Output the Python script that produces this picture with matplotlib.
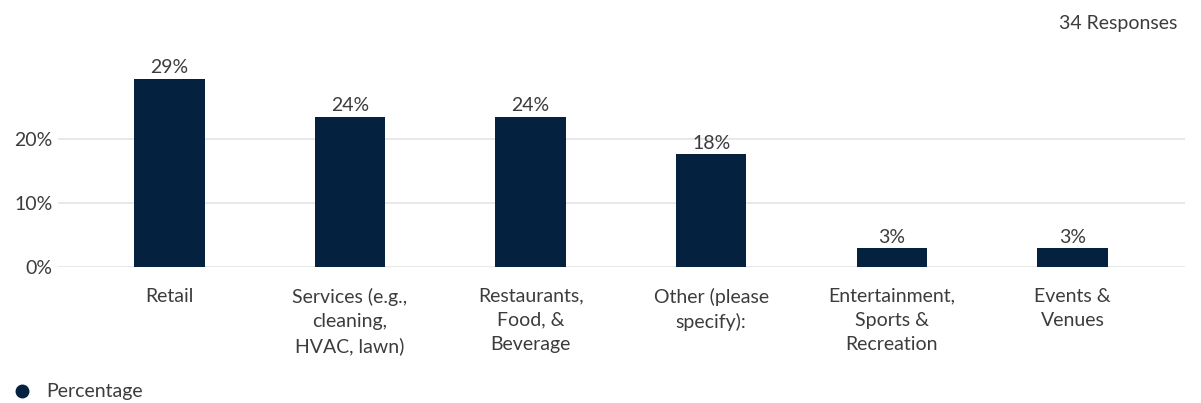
import matplotlib
matplotlib.use("Agg")
import matplotlib.pyplot as plt
from matplotlib.lines import Line2D

plt.rcParams["font.family"] = ["Lato", "DejaVu Sans"]

# Survey results: share of respondents by business category
categories = [
    "Retail",
    "Services (e.g.,\ncleaning,\nHVAC, lawn)",
    "Restaurants,\nFood, &\nBeverage",
    "Other (please\nspecify):",
    "Entertainment,\nSports &\nRecreation",
    "Events &\nVenues",
]
percentages = [29.4, 23.5, 23.5, 17.6, 2.9, 2.9]
y_ticks = [0, 10, 20]
y_tick_labels = ["0%", "10%", "20%"]
responses_note = "34 Responses"
series_name = "Percentage"

BAR_COLOR = "#04213f"
TEXT_COLOR = "#3c3c3c"
GRID_COLOR = "#e4e4e4"
FS = 14

W, H = 1201, 403
fig = plt.figure(figsize=(W / 100, H / 100), dpi=100)

# axes placed in pixel terms: x from 58 to 1185, zero line at y=267
ax_left, ax_right = 58, 1185
ax_bottom, ax_top = 267, 75
ax = fig.add_axes([ax_left / W, 1 - ax_bottom / H,
                   (ax_right - ax_left) / W, (ax_bottom - ax_top) / H])

x = list(range(len(categories)))
bars = ax.bar(x, percentages, width=0.39, color=BAR_COLOR, zorder=3)

ax.set_xlim(-0.617, 5.623)
ax.set_ylim(0, 30)

ax.set_yticks(y_ticks)
ax.set_yticklabels(y_tick_labels)
ax.yaxis.grid(True, color=GRID_COLOR, linewidth=1.2, zorder=0)
ax.tick_params(axis="y", length=0, pad=4, labelsize=FS, labelcolor=TEXT_COLOR)

ax.set_xticks(x)
ax.set_xticklabels(categories, linespacing=1.5)
ax.tick_params(axis="x", length=0, pad=15, labelsize=FS, labelcolor=TEXT_COLOR)
for lbl in ax.get_xticklabels():
    lbl.set_verticalalignment("top")

for s in ax.spines.values():
    s.set_visible(False)

# value labels over each bar
for rect, v in zip(bars, percentages):
    ax.annotate(f"{v:.0f}%", (rect.get_x() + rect.get_width() / 2, v),
                xytext=(0, 2), textcoords="offset points",
                ha="center", va="bottom", fontsize=FS, color=TEXT_COLOR)

fig.text(1177 / W, 1 - 24 / H, responses_note, ha="right", va="center",
         fontsize=FS, color=TEXT_COLOR)

# legend
fig.add_artist(Line2D([22 / W], [1 - 391 / H], marker="o", markersize=9,
                      color=BAR_COLOR, linestyle="none",
                      transform=fig.transFigure))
fig.text(46 / W, 1 - 392 / H, series_name, ha="left", va="center",
         fontsize=FS, color=TEXT_COLOR)

fig.savefig("out.png", dpi=100)
